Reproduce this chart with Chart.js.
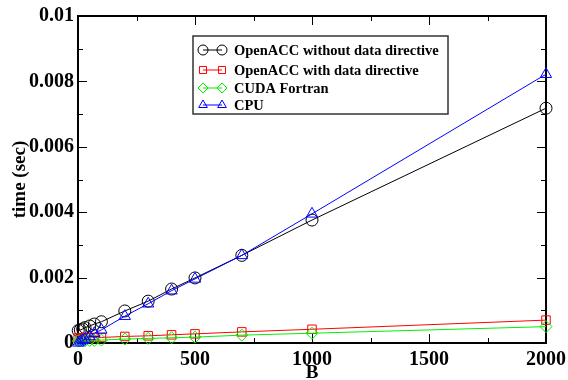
<!DOCTYPE html>
<html>
<head>
<meta charset="utf-8">
<script src="https://cdn.jsdelivr.net/npm/chart.js@4"></script>
<style>
    html, body { margin: 0; padding: 0; background: #fff; }
    #wrap { width: 568px; height: 380px; }
</style>
</head>
<body>
<div id="wrap"><canvas id="timeCanvas"></canvas></div>
<script>
// data
var sizes = [1, 10, 20, 30, 50, 70, 100, 200, 300, 400, 500, 700, 1000, 2000];
var accNoData = [0.00038, 0.0004, 0.00043, 0.00047, 0.00052, 0.00058, 0.00065, 0.00098, 0.00128, 0.00165, 0.00199, 0.00268, 0.00376, 0.00718];
var accData = [0.00015, 0.00015, 0.00015, 0.00016, 0.00016, 0.00017, 0.00017, 0.0002, 0.00022, 0.00025, 0.00028, 0.00034, 0.00042, 0.0007];
var cudaFortran = [0.00006, 0.00006, 0.00007, 0.00007, 0.00008, 0.00008, 0.00009, 0.00012, 0.00014, 0.00016, 0.00018, 0.00024, 0.0003, 0.0005];
var cpu = [0.000004, 0.00004, 0.00008, 0.00012, 0.0002, 0.0003, 0.0004, 0.00082, 0.0012, 0.0016, 0.00196, 0.00268, 0.00395, 0.00822];

var seriesNames = ['OpenACC without data directive', 'OpenACC with data directive', 'CUDA Fortran', 'CPU'];
var xTicks = [0, 500, 1000, 1500, 2000];
var xTickLabels = ['0', '500', '1000', '1500', '2000'];
var yTicks = [0, 0.002, 0.004, 0.006, 0.008, 0.01];
var yTickLabels = ['0', '0.002', '0.004', '0.006', '0.008', '0.01'];

var serif = '"Liberation Serif", "Times New Roman", serif';

var toPoints = function (ys) {
    return sizes.map(function (b, i) {
        return { x: b, y: ys[i] };
    });
};

var makeSet = function (label, ys, color, style, radius, order) {
    return {
        label: label,
        data: toPoints(ys),
        showLine: true,
        clip: false,
        borderColor: color,
        backgroundColor: 'rgba(0,0,0,0)',
        borderWidth: 1,
        pointStyle: style,
        pointRadius: radius,
        pointBorderColor: color,
        pointBackgroundColor: 'rgba(0,0,0,0)',
        pointBorderWidth: 1,
        order: order
    };
};

// frame with inward ticks on all four sides
var framePlugin = {
    id: 'frame',
    beforeDatasetsDraw: function (chart) {
        var ctx = chart.ctx;
        var a = chart.chartArea;
        var xs = chart.scales.x, ys = chart.scales.y;
        ctx.save();
        ctx.strokeStyle = '#000';
        ctx.lineWidth = 1;
        var v, px, len;
        for (v = 0; v <= 2000; v += 250) {
            px = Math.round(xs.getPixelForValue(v)) + 0.5;
            len = (v % 500 === 0) ? 9 : 5;
            ctx.beginPath();
            ctx.moveTo(px, a.bottom); ctx.lineTo(px, a.bottom - len);
            ctx.moveTo(px, a.top); ctx.lineTo(px, a.top + len);
            ctx.stroke();
        }
        for (var k = 0; k <= 10; k++) {
            v = k * 0.001;
            px = Math.round(ys.getPixelForValue(v)) + 0.5;
            len = (k % 2 === 0) ? 9 : 5;
            ctx.beginPath();
            ctx.moveTo(a.left, px); ctx.lineTo(a.left + len, px);
            ctx.moveTo(a.right, px); ctx.lineTo(a.right - len, px);
            ctx.stroke();
        }
        ctx.lineWidth = 2;
        ctx.strokeRect(a.left, a.top, a.right - a.left, a.bottom - a.top);
        ctx.restore();
    }
};

// boxed legend, line with a marker at each end
var boxLegend = {
    id: 'boxLegend',
    afterDraw: function (chart) {
        var ctx = chart.ctx;
        var bx = 193, by = 36, bw = 255, bh = 78;
        ctx.save();
        ctx.fillStyle = '#fff';
        ctx.fillRect(bx, by, bw, bh);
        ctx.strokeStyle = '#333';
        ctx.lineWidth = 1.5;
        ctx.strokeRect(bx, by, bw, bh);
        var rows = [50, 70, 88, 105];
        chart.data.datasets.forEach(function (ds, i) {
            var y = rows[i];
            ctx.strokeStyle = ds.borderColor;
            ctx.fillStyle = 'rgba(0,0,0,0)';
            ctx.lineWidth = 1;
            ctx.beginPath();
            ctx.moveTo(203, y); ctx.lineTo(222, y);
            ctx.stroke();
            [203, 222].forEach(function (x) {
                Chart.helpers.drawPoint(ctx, {
                    pointStyle: ds.pointStyle,
                    radius: 5,
                    borderWidth: 1
                }, x, y);
            });
            ctx.fillStyle = '#000';
            ctx.font = 'bold 14.5px ' + serif;
            ctx.textBaseline = 'middle';
            ctx.textAlign = 'left';
            ctx.fillText(ds.label, 234, y + 1);
        });
        ctx.restore();
    }
};

window.onload = function () {
    var ctx = document.getElementById('timeCanvas').getContext('2d');
    window.myChart = new Chart(ctx, {
        type: 'scatter',
        data: {
            datasets: [
                makeSet(seriesNames[0], accNoData, 'rgb(0,0,0)', 'circle', 6, 3),
                makeSet(seriesNames[1], accData, 'rgb(255,0,0)', 'rect', 6, 2),
                makeSet(seriesNames[2], cudaFortran, 'rgb(0,240,0)', 'rectRot', 6, 1),
                makeSet(seriesNames[3], cpu, 'rgb(0,0,255)', 'triangle', 6.5, 0)
            ]
        },
        plugins: [framePlugin, boxLegend],
        options: {
            responsive: true,
            maintainAspectRatio: false,
            animation: false,
            layout: { padding: { top: 16, right: 22, left: 0, bottom: 0 } },
            plugins: {
                legend: { display: false },
                tooltip: { enabled: false }
            },
            scales: {
                x: {
                    type: 'linear',
                    min: 0,
                    max: 2000,
                    grid: { display: false, drawTicks: false },
                    border: { display: false },
                    afterBuildTicks: function (scale) {
                        scale.ticks = xTicks.map(function (v) { return { value: v }; });
                    },
                    afterFit: function (scale) {
                        scale.height = 37;
                        scale.paddingLeft = 0;
                        scale.paddingRight = 0;
                    },
                    ticks: {
                        padding: 5,
                        color: '#000',
                        maxRotation: 0,
                        font: { family: serif, size: 20, weight: 'bold' },
                        callback: function (v, i) { return xTickLabels[i]; }
                    },
                    title: {
                        display: true,
                        text: 'B',
                        color: '#000',
                        padding: { top: 0, bottom: 0 },
                        font: { family: serif, size: 19, weight: 'bold', lineHeight: 0.7 }
                    }
                },
                y: {
                    type: 'linear',
                    min: 0,
                    max: 0.01,
                    grid: { display: false, drawTicks: false },
                    border: { display: false },
                    afterBuildTicks: function (scale) {
                        scale.ticks = yTicks.map(function (v) { return { value: v }; });
                    },
                    afterFit: function (scale) {
                        scale.width = 78;
                        scale.paddingTop = 0;
                        scale.paddingBottom = 0;
                    },
                    ticks: {
                        padding: 4,
                        color: '#000',
                        font: { family: serif, size: 20, weight: 'bold' },
                        callback: function (v, i) { return yTickLabels[i]; }
                    },
                    title: {
                        display: true,
                        text: 'time (sec)',
                        color: '#000',
                        padding: { top: 9, bottom: 0 },
                        font: { family: serif, size: 19, weight: 'bold', lineHeight: 1.2 }
                    }
                }
            }
        }
    });
};
</script>
</body>
</html>
